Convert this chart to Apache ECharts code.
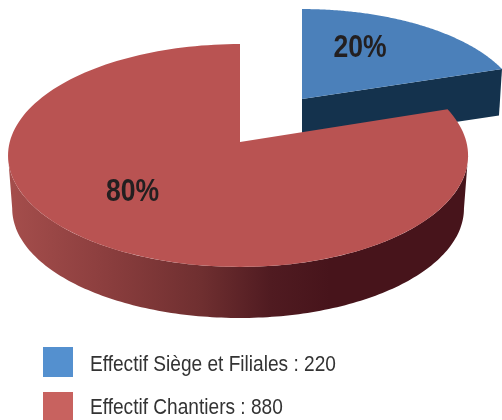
<!DOCTYPE html>
<html><head><meta charset="utf-8">
<style>html,body{margin:0;padding:0;background:#fff;overflow:hidden}#c{width:502px;height:420px}</style>
<script src="https://cdn.jsdelivr.net/npm/echarts@6/dist/echarts.min.js"></script>
</head><body><div id="c"></div>
<script>
const categories = ['Effectif Siège et Filiales', 'Effectif Chantiers'];
const values = [220, 880];
const topColors = ['#4b80ba', '#b95352'];
const legendColors = ['#5490cf', '#c8625f'];
const total = values.reduce((a, b) => a + b, 0);

// Perspective layout of each slice (explosion gives the first slice its own frame)
const frames = [
  { ax: 302, ay: 99, d: 8.66, fL: 1886, fR: 1886, g: 869, drop: 46, shrink: 0.985, label: [360, 48], legendY: 347, legendTextY: 365 },
  { ax: 240, ay: 142, d: 8.26, fL: 1902, fR: 1870, g: 907, drop: 53.3, shrink: 0.982, label: [132.5, 192], legendY: 392, legendTextY: 408 }
];
const wallBlue = '#14324d';
const wallRed = [[0, '#a54e4c'], [0.2, '#8d3f3f'], [0.42, '#6f2f30'], [0.57, '#501b21'], [0.7, '#47141b'], [1, '#47141b']];

function project(fr, r, th) {
  const u = r * Math.sin(th), v = -r * Math.cos(th);
  const k = 1 / (fr.d - v);
  return [fr.ax + (u < 0 ? fr.fL : fr.fR) * u * k, fr.ay + fr.g * v * k];
}
function lower(fr, p) {
  return [fr.ax + fr.shrink * (p[0] - fr.ax), fr.ay + fr.drop + fr.shrink * (p[1] - fr.ay)];
}
function arc(fr, a0, a1) {
  const pts = [], n = 160;
  for (let i = 0; i <= n; i++) pts.push(project(fr, 1, a0 + (a1 - a0) * i / n));
  return pts;
}
function sliceRenderer(idx, name) {
  return function (params, api) {
    const val = api.value(0);
    const before = values.slice(0, idx).reduce((a, b) => a + b, 0);
    const a0 = before / total * 2 * Math.PI;
    const a1 = (before + val) / total * 2 * Math.PI;
    const fr = frames[idx];
    const rim = arc(fr, a0, a1);
    const apex = [fr.ax, fr.ay];
    const children = [];
    if (idx === 0) {
      const end = rim[rim.length - 1];
      children.push({ type: 'polygon', shape: { points: [apex, end, lower(fr, end), lower(fr, apex)] },
        style: { fill: wallBlue } });
    } else {
      const ext = Math.acos(-1 / fr.d);
      const front = arc(fr, 2 * Math.PI - ext, ext);
      const pts = front.concat(front.slice().reverse().map(p => lower(fr, p)));
      children.push({ type: 'polygon', shape: { points: pts },
        style: { fill: new echarts.graphic.LinearGradient(0, 0, 1, 0,
          wallRed.map(s => ({ offset: s[0], color: s[1] }))) } });
    }
    children.push({ type: 'polygon', shape: { points: [apex].concat(rim) }, style: { fill: topColors[idx] } });
    children.push({ type: 'text', x: fr.label[0], y: fr.label[1], scaleX: 0.83, style: {
      x: 0, y: 0, text: Math.round(val / total * 100) + '%',
      font: 'bold 32px "Liberation Sans"', fill: '#231f20', align: 'center', verticalAlign: 'middle' } });
    children.push({ type: 'rect', shape: { x: 43, y: fr.legendY, width: 30, height: 30 },
      style: { fill: legendColors[idx] } });
    children.push({ type: 'text', x: 90, y: fr.legendTextY, scaleX: 0.868, style: {
      x: 0, y: 0, text: name,
      font: '22px "Liberation Sans"', fill: '#333333', align: 'left', verticalAlign: 'middle' } });
    return { type: 'group', children };
  };
}
const chart = echarts.init(document.getElementById('c'), null, { renderer: 'canvas' });
const names = categories.map((c, i) => c + ' : ' + values[i]);
chart.setOption({
  animation: false,
  backgroundColor: '#fff',
  series: names.map((n, i) => ({
    type: 'custom', name: n, coordinateSystem: 'none', z: i, silent: true,
    renderItem: sliceRenderer(i, n), data: [[values[i]]]
  }))
});
</script></body></html>
